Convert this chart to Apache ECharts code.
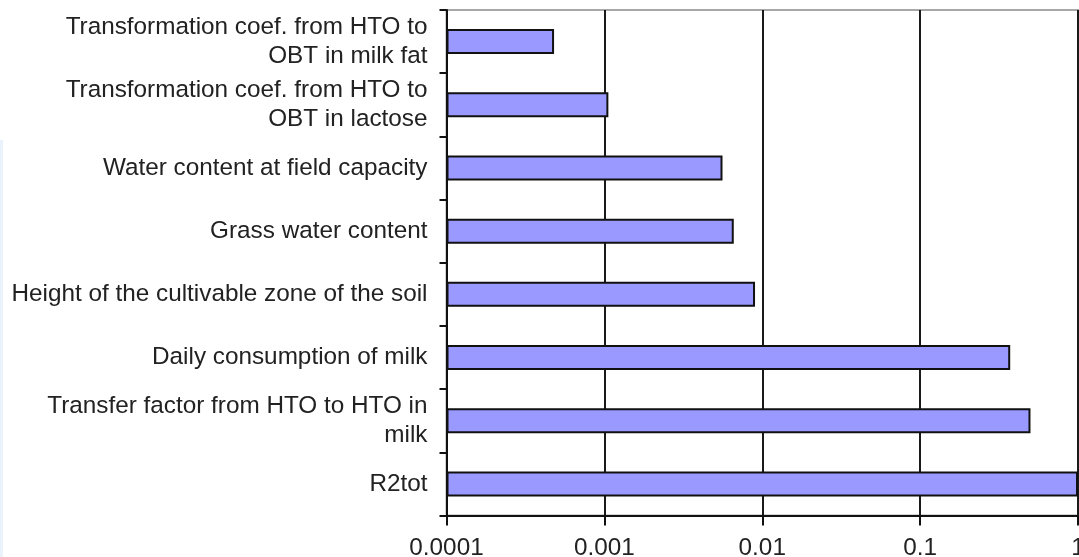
<!DOCTYPE html>
<html>
<head>
<meta charset="utf-8">
<script src="https://cdn.jsdelivr.net/npm/echarts@6/dist/echarts.min.js"></script>
<style>
html,body{margin:0;padding:0;background:#fff;}
#chart{width:1079px;height:557px;}
</style>
</head>
<body>
<div id="chart"></div>
<script>
const categories = [
  "Transformation coef. from HTO to\nOBT in milk fat",
  "Transformation coef. from HTO to\nOBT in lactose",
  "Water content at field capacity",
  "Grass water content",
  "Height of the cultivable zone of the soil",
  "Daily consumption of milk",
  "Transfer factor from HTO to HTO in\nmilk",
  "R2tot"
];
const values = [0.00048, 0.00106, 0.0056, 0.0066, 0.009, 0.372, 0.50, 1];
const tickLabels = ["0.0001", "0.001", "0.01", "0.1", "1"];

const chart = echarts.init(document.getElementById('chart'), null, {renderer: 'canvas'});
const font = "'Liberation Sans', Arial, sans-serif";
chart.setOption({
  animation: false,
  backgroundColor: '#ffffff',
  grid: {
    left: 446.5, right: 1, top: 10, bottom: 41.5,
    outerBoundsMode: 'none', containLabel: false,
    show: true, borderColor: '#a8a8a8', borderWidth: 2, backgroundColor: 'transparent'
  },
  graphic: [{
    type: 'rect', left: 0, top: 140, shape: {width: 3, height: 417},
    style: {fill: '#eaf3fb'}, silent: true
  }],
  xAxis: {
    type: 'log', logBase: 10, min: 0.0001, max: 1, startValue: 0.0001,
    axisLine: {show: true, lineStyle: {color: '#111', width: 2}},
    axisTick: {show: true, length: 10, inside: false, lineStyle: {color: '#111', width: 2}},
    minorTick: {show: false},
    splitLine: {show: true, lineStyle: {color: '#1a1a1a', width: 2}},
    axisLabel: {
      margin: 21, color: '#222', fontSize: 24.3, fontFamily: font,
      formatter: function (v) {
        const i = Math.round(Math.log10(v)) + 4;
        return tickLabels[i] !== undefined ? tickLabels[i] : '';
      }
    }
  },
  yAxis: {
    type: 'category', data: categories, inverse: true,
    axisLine: {show: true, lineStyle: {color: '#111', width: 2}},
    axisTick: {show: true, length: 7, inside: false, alignWithLabel: false, lineStyle: {color: '#111', width: 2}},
    splitLine: {show: false},
    axisLabel: {
      margin: 19, color: '#222', fontSize: 24.3, fontFamily: font,
      lineHeight: 29, align: 'right'
    }
  },
  series: [{
    type: 'bar', data: values, barWidth: 25,
    itemStyle: {color: '#9999ff', borderColor: '#111', borderWidth: 2},
    silent: true
  }]
});
</script>
</body>
</html>
